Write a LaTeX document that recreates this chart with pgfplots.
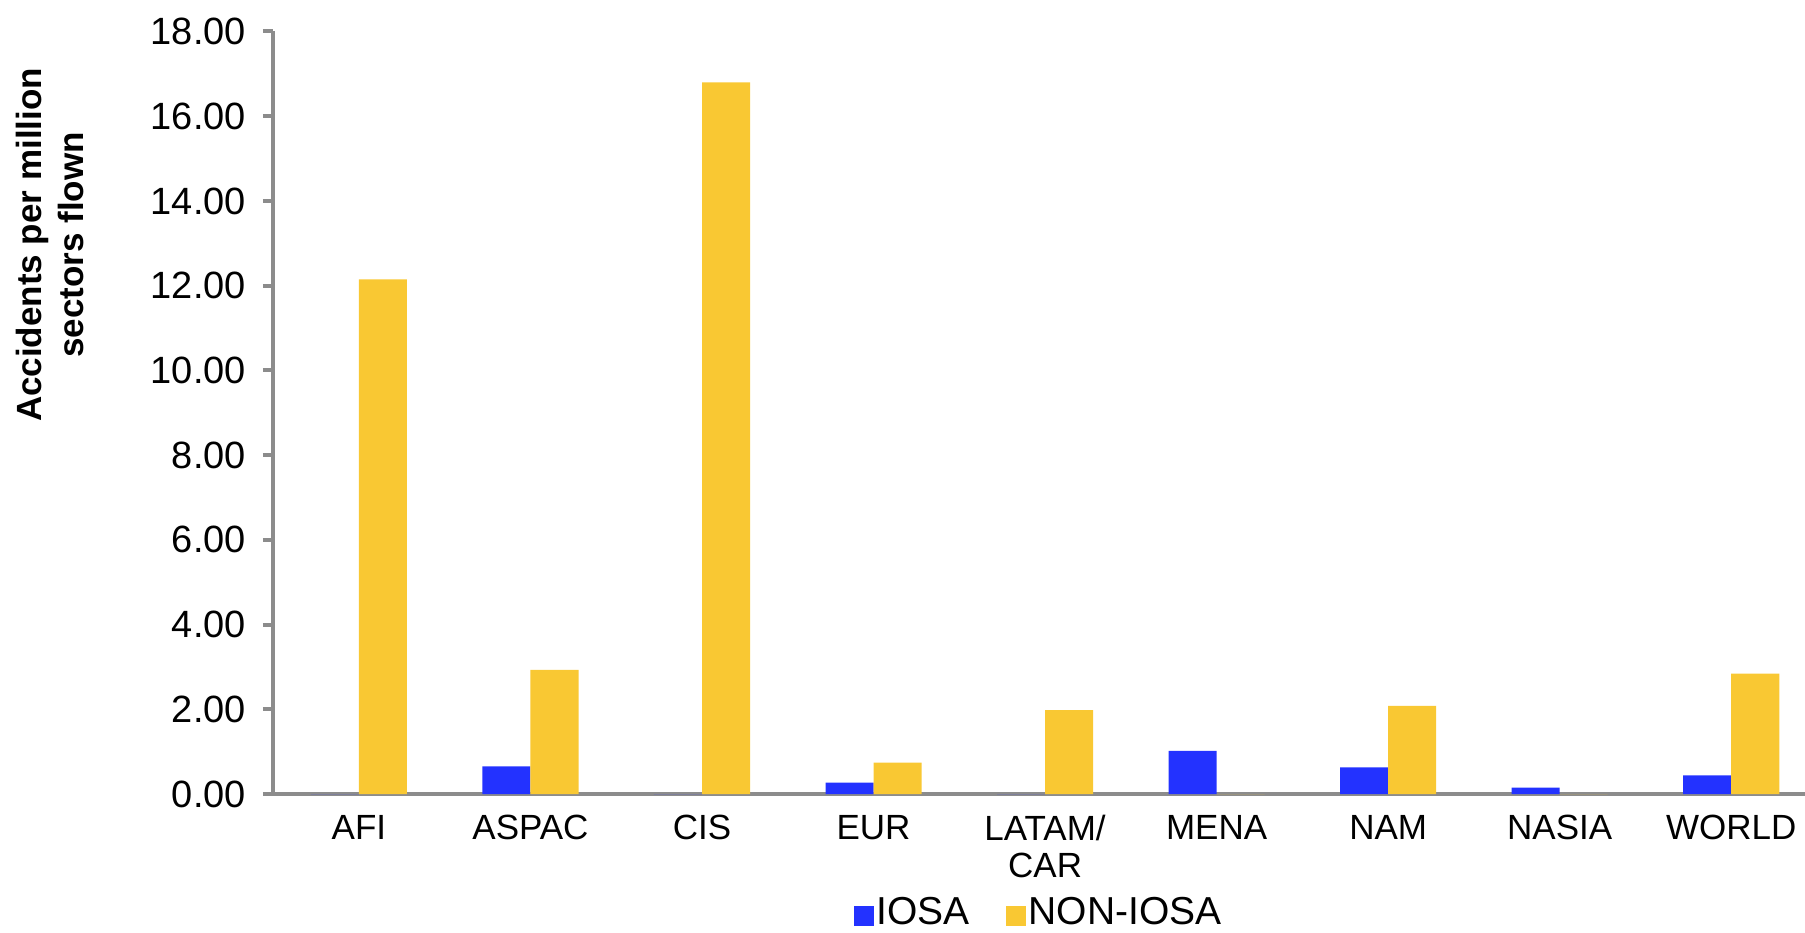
\documentclass[border=0pt]{standalone}
\usepackage{pgfplots}
\pgfplotsset{compat=1.18}
\usepackage{fontspec}
\setmainfont{Liberation Sans}
\definecolor{iosa}{RGB}{35,50,255}
\definecolor{noniosa}{RGB}{249,200,51}
\definecolor{axgray}{RGB}{140,140,140}
\begin{document}
\begin{tikzpicture}
\begin{axis}[
  scale only axis,
  width=766pt, height=381.25pt,
  xmin=-0.501, xmax=8.43,
  ymin=0, ymax=18,
  ybar=0pt, bar width=0.28,
  axis x line*=bottom, axis y line*=left,
  axis line style={-, axgray, line width=2.2pt},
  xtick={0,1,2,3,4,5,6,7,8},
  xticklabels={AFI,ASPAC,CIS,EUR,{LATAM/\\CAR},MENA,NAM,NASIA,WORLD},
  x tick style={draw=none},
  x tick label style={align=center, anchor=north, yshift=-2pt, font=\fontsize{17.5}{18.5}\selectfont},
  ytick={0,2,...,18},
  y tick style={axgray, line width=2pt},
  tick align=outside,
  major tick length=5pt,
  y tick label style={xshift=-5pt, font=\fontsize{19}{21}\selectfont},
  /pgf/number format/assume math mode=true,
  yticklabel={\pgfmathprintnumber[fixed,fixed zerofill,precision=2]{\tick}},
  ylabel={Accidents per million\\sectors flown},
  ylabel style={at={(axis description cs:-0.1456,0.72)}, anchor=center, rotate=0, align=center, font=\fontsize{17.5}{21}\selectfont\bfseries},
  legend columns=2,
  legend style={at={(axis description cs:0.5,0)}, anchor=north, yshift=-50pt, draw=none, fill=none,
    font=\fontsize{19.5}{21}\selectfont, inner sep=0pt,
    nodes={inner sep=1.2pt},
    /tikz/every even column/.append style={column sep=17pt}},
  legend image code/.code={\fill[#1] (0pt,-6.8pt) rectangle (10pt,3.2pt);},
  clip=false,
]
\addplot[draw=none, fill=iosa] coordinates {(0,0) (1,0.65) (2,0) (3,0.27) (4,0) (5,1.02) (6,0.63) (7,0.15) (8,0.44)};
\addplot[draw=none, fill=noniosa] coordinates {(0,12.15) (1,2.93) (2,16.8) (3,0.74) (4,1.98) (5,0) (6,2.08) (7,0) (8,2.84)};
\legend{IOSA,NON-IOSA}
\coordinate (o) at (rel axis cs:0,0);
\end{axis}
\pgfresetboundingbox
\path (o) ++(-136.5pt,-69pt) rectangle ++(902.5pt,466pt);
\end{tikzpicture}
\end{document}
